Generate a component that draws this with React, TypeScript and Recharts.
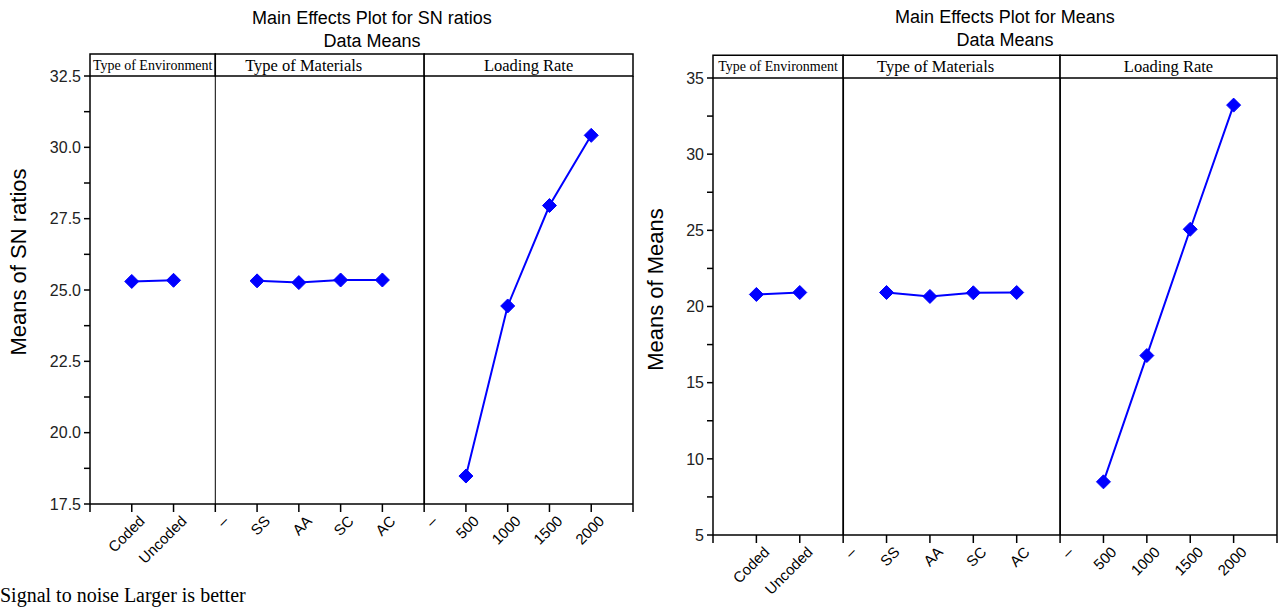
import React from 'react';
import { LineChart, Line, XAxis, YAxis, ReferenceLine, ReferenceArea } from 'recharts';

// ---- data ----
const xTickPositions = [0, 1, 2, 3, 4, 5, 6, 7, 8, 9, 10, 11, 12, 13];
const xTickLabels = ['', 'Coded', 'Uncoded', '–', 'SS', 'AA', 'SC', 'AC', '–', '500', '1000', '1500', '2000', ''];

const envPositions = [1, 2];
const matPositions = [4, 5, 6, 7];
const loadPositions = [9, 10, 11, 12];

const groupHeaders = ['Type of Environment', 'Type of Materials', 'Loading Rate'];
const groupStarts = [0, 3, 8];
const groupEnds = [3, 8, 13];

// SN ratios
const snEnv = [25.3, 25.34];
const snMat = [25.32, 25.26, 25.35, 25.35];
const snLoad = [18.48, 24.44, 27.96, 30.42];
const snTicks = [17.5, 18.75, 20, 21.25, 22.5, 23.75, 25, 26.25, 27.5, 28.75, 30, 31.25, 32.5];
const snMajorTicks = [17.5, 20, 22.5, 25, 27.5, 30, 32.5];

// Means
const meanEnv = [20.79, 20.92];
const meanMat = [20.92, 20.66, 20.9, 20.92];
const meanLoad = [8.49, 16.78, 25.07, 33.22];
const meanTicks = [5, 7.5, 10, 12.5, 15, 17.5, 20, 22.5, 25, 27.5, 30, 32.5, 35];
const meanMajorTicks = [5, 10, 15, 20, 25, 30, 35];

const SANS = '"Liberation Sans", Arial, sans-serif';
const SERIF = '"Liberation Serif", "Times New Roman", serif';
const BLUE = '#0000ff';

// header text styling (font size, horizontal nudge)
const headerFontSizes = [14, 16.5, 16.5];
const headerNudges = [0, -16, 0];

const toPoints = (xs: number[], ys: number[]) => xs.map((x, i) => ({ x, y: ys[i] }));

const Diamond = (props: any) => {
  const { cx, cy, index } = props;
  if (cx == null || cy == null) return <g key={`d-${index}`} />;
  const r = 7;
  return (
    <path
      key={`d-${index}-${cx}`}
      d={`M${cx},${cy - r} L${cx + r},${cy} L${cx},${cy + r} L${cx - r},${cy} Z`}
      fill={BLUE}
      stroke={BLUE}
      strokeWidth={1}
    />
  );
};

const XTick = (props: any) => {
  const { x, y, payload } = props;
  const idx = xTickPositions.indexOf(payload.value);
  const label = idx >= 0 ? xTickLabels[idx] : '';
  return (
    <g transform={`translate(${x + 14},${y + 10})`}>
      <text
        x={0}
        y={0}
        textAnchor="end"
        transform="rotate(-45)"
        fontFamily={SANS}
        fontSize={15}
        fill="#000"
      >
        {label}
      </text>
    </g>
  );
};

const makeHeaderLabel = (text: string, i: number) => (props: any) => {
  const vb = props.viewBox || {};
  const cx = (vb.x ?? 0) + (vb.width ?? 0) / 2 + headerNudges[i];
  const cy = (vb.y ?? 0) + (vb.height ?? 0) / 2;
  return (
    <text
      x={cx}
      y={cy}
      dy="0.35em"
      textAnchor="middle"
      fontFamily={SERIF}
      fontSize={headerFontSizes[i]}
      fill="#000"
    >
      {text}
    </text>
  );
};

const makeYLabel = (text: string, offsetX: number, shiftY: number) => (props: any) => {
  const vb = props.viewBox || {};
  const x = (vb.x ?? 0) + offsetX;
  const y = (vb.y ?? 0) + (vb.height ?? 0) / 2 + shiftY;
  return (
    <text
      x={x}
      y={y}
      dy="0.35em"
      textAnchor="middle"
      transform={`rotate(-90, ${x}, ${y})`}
      fontFamily={SANS}
      fontSize={22}
      fill="#000"
    >
      {text}
    </text>
  );
};

type PanelProps = {
  width: number;
  height: number;
  margin: { top: number; right: number; bottom: number; left: number };
  yAxisWidth: number;
  yTicks: number[];
  yMajor: number[];
  yDomain: [number, number];
  headerUnits: number;
  yLabel: string;
  yLabelOffset: number;
  yLabelShift: number;
  yDecimals: number;
  env: number[];
  mat: number[];
  load: number[];
  thinFirstDivider: boolean;
};

const Panel = (p: PanelProps) => {
  const yMax = p.yDomain[1];
  return (
    <LineChart width={p.width} height={p.height} margin={p.margin}>
      <XAxis
        dataKey="x"
        type="number"
        domain={[0, 13]}
        ticks={xTickPositions}
        interval={0}
        allowDataOverflow
        axisLine={{ stroke: '#000', strokeWidth: 1.5 }}
        tickLine={{ stroke: '#000', strokeWidth: 1.5 }}
        tickSize={8}
        tickMargin={0}
        height={60}
        tick={<XTick />}
      />
      <YAxis
        type="number"
        domain={p.yDomain}
        ticks={p.yTicks}
        interval={0}
        allowDataOverflow
        width={p.yAxisWidth}
        axisLine={{ stroke: '#000', strokeWidth: 1.5 }}
        tickLine={{ stroke: '#000', strokeWidth: 1.5 }}
        tickSize={6}
        tickMargin={3}
        tick={{ fill: '#222', fontSize: 16, fontFamily: SANS }}
        tickFormatter={(v: number) => (p.yMajor.indexOf(v) >= 0 ? v.toFixed(p.yDecimals) : '')}
        label={makeYLabel(p.yLabel, p.yLabelOffset, p.yLabelShift)}
      />
      {groupHeaders.map((h, i) => (
        <ReferenceArea
          key={`hdr-${i}`}
          x1={groupStarts[i]}
          x2={groupEnds[i]}
          y1={yMax}
          y2={yMax + p.headerUnits}
          ifOverflow="visible"
          fill="#fff"
          fillOpacity={1}
          stroke="#000"
          strokeWidth={1.5}
          label={makeHeaderLabel(h, i)}
        />
      ))}
      <ReferenceLine x={3} stroke="#000" strokeWidth={p.thinFirstDivider ? 1 : 1.8} ifOverflow="visible" />
      <ReferenceLine x={8} stroke="#000" strokeWidth={1.8} ifOverflow="visible" />
      <ReferenceLine x={13} stroke="#000" strokeWidth={1.5} ifOverflow="visible" />
      <Line
        data={toPoints(envPositions, p.env)}
        dataKey="y"
        stroke={BLUE}
        strokeWidth={2}
        dot={Diamond}
        activeDot={false}
        isAnimationActive={false}
      />
      <Line
        data={toPoints(matPositions, p.mat)}
        dataKey="y"
        stroke={BLUE}
        strokeWidth={2}
        dot={Diamond}
        activeDot={false}
        isAnimationActive={false}
      />
      <Line
        data={toPoints(loadPositions, p.load)}
        dataKey="y"
        stroke={BLUE}
        strokeWidth={2}
        dot={Diamond}
        activeDot={false}
        isAnimationActive={false}
      />
    </LineChart>
  );
};

const titleStyle: React.CSSProperties = {
  position: 'absolute',
  fontFamily: SANS,
  fontSize: 18,
  lineHeight: '23px',
  textAlign: 'center',
  color: '#000',
  width: 400,
};

export default function App() {
  return (
    <div style={{ position: 'absolute', left: 0, top: 0, width: 1278, height: 608, background: '#fff', overflow: 'hidden' }}>
      <div style={{ position: 'absolute', left: 0, top: 0 }}>
        <Panel
          width={640}
          height={608}
          margin={{ top: 76, right: 7, bottom: 44, left: 0 }}
          yAxisWidth={90}
          yTicks={snTicks}
          yMajor={snMajorTicks}
          yDomain={[17.5, 32.5]}
          headerUnits={0.77}
          yLabel="Means of SN ratios"
          yLabelOffset={18}
          yLabelShift={-28}
          yDecimals={1}
          env={snEnv}
          mat={snMat}
          load={snLoad}
          thinFirstDivider={true}
        />
      </div>
      <div style={{ position: 'absolute', left: 640, top: 0 }}>
        <Panel
          width={638}
          height={608}
          margin={{ top: 78, right: 1, bottom: 13, left: 0 }}
          yAxisWidth={73}
          yTicks={meanTicks}
          yMajor={meanMajorTicks}
          yDomain={[5, 35]}
          headerUnits={1.5}
          yLabel="Means of Means"
          yLabelOffset={15}
          yLabelShift={-17}
          yDecimals={0}
          env={meanEnv}
          mat={meanMat}
          load={meanLoad}
          thinFirstDivider={false}
        />
      </div>
      <div style={{ ...titleStyle, left: 372 - 200, top: 7 }}>
        Main Effects Plot for SN ratios
        <br />
        Data Means
      </div>
      <div style={{ ...titleStyle, left: 1005 - 200, top: 6 }}>
        Main Effects Plot for Means
        <br />
        Data Means
      </div>
      <div
        style={{
          position: 'absolute',
          left: 0,
          top: 584,
          fontFamily: SERIF,
          fontSize: 20,
          lineHeight: '22px',
          color: '#000',
          whiteSpace: 'nowrap',
        }}
      >
        Signal to noise Larger is better
      </div>
    </div>
  );
}
